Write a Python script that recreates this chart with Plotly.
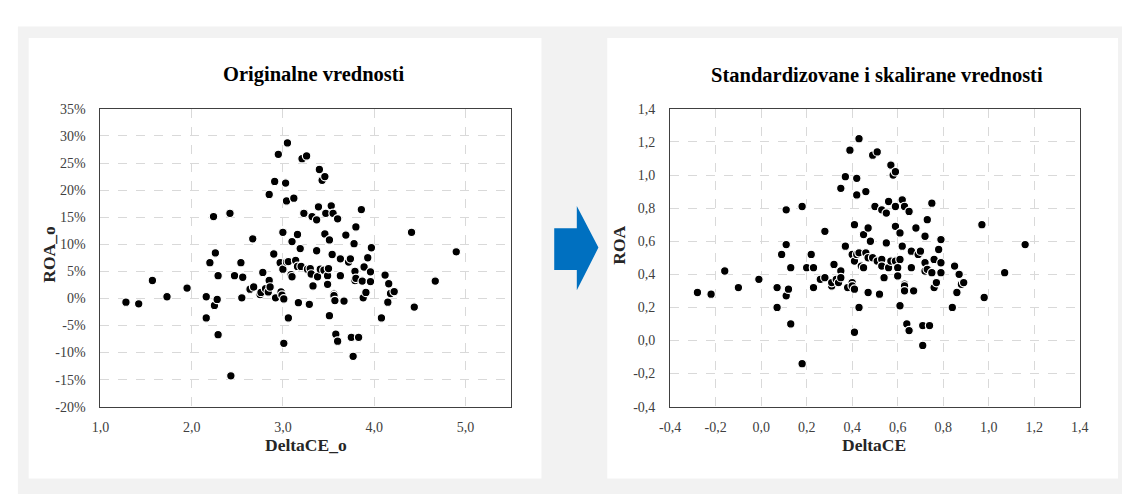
import plotly.graph_objects as go

# ---------------- data ----------------
delta_ce_o = [1.28, 1.42, 1.57, 1.73, 1.95, 2.16, 2.16, 2.20, 2.24, 2.25, 2.26, 2.28, 2.29, 2.29, 2.42,
              2.43, 2.47, 2.54, 2.55, 2.56, 2.64, 2.67, 2.68, 2.75, 2.76, 2.78, 2.81, 2.84, 2.85, 2.86,
              2.85, 2.90, 2.91, 2.92, 2.95, 2.97, 2.98, 2.99, 3.00, 3.00, 3.01, 3.01, 3.03, 3.04, 3.04,
              3.05, 3.06, 3.06, 3.09, 3.10, 3.10, 3.12, 3.14, 3.16, 3.16, 3.17, 3.19, 3.20, 3.21, 3.23,
              3.26, 3.27, 3.29, 3.30, 3.31, 3.32, 3.33, 3.37, 3.37, 3.38, 3.39, 3.40, 3.41, 3.43, 3.45,
              3.46, 3.46, 3.47, 3.49, 3.49, 3.50, 3.51, 3.51, 3.53, 3.54, 3.55, 3.56, 3.56, 3.57, 3.58,
              3.60, 3.60, 3.63, 3.63, 3.67, 3.69, 3.72, 3.74, 3.75, 3.77, 3.78, 3.79, 3.79, 3.80, 3.80,
              3.83, 3.86, 3.87, 3.88, 3.89, 3.91, 3.93, 3.96, 3.96, 3.97, 4.08, 4.12, 4.15, 4.16, 4.18,
              4.22, 4.41, 4.44, 4.67, 4.90]
roa_o_pct = [-0.7, -1.0, 3.3, 0.3, 1.9, 0.3, -3.6, 6.6, 15.1, -1.3, 8.4, -0.2, 4.2, -6.7, 15.7,
             -14.3, 4.2, 6.6, 0.1, 3.9, 1.7, 11.0, 2.1, 0.7, 1.1, 4.8, 1.8, 1.2, 3.3, 2.1,
             19.2, 8.2, 21.6, 0.1, 26.6, 6.6, 1.2, 0.6, 12.2, 5.4, -0.1, -8.3, 21.3, 18.0, 6.7,
             28.7, 6.8, -3.6, 4.4, 4.0, 10.5, 18.5, 7.0, 11.8, 5.9, -0.8, 9.2, 5.9, 25.8, 15.7,
             26.3, 5.4, -1.1, 5.5, 4.5, 15.1, 2.3, 14.5, 8.8, 4.0, 16.9, 23.8, 5.4, 21.8, 5.2,
             22.5, 11.9, 15.7, 4.2, 2.6, 5.5, 10.8, -3.2, 17.1, 8.1, 15.7, 0.8, 0.5, -0.4, -6.6,
             14.7, -7.9, 7.3, 4.2, -0.5, 11.7, 6.7, 7.3, -7.2, -10.7, 10.1, 5.0, 3.3, 3.7, 13.2,
             -7.2, 16.4, 3.2, 0.1, 5.8, 1.1, 7.5, 4.9, 3.1, 9.35, -3.6, 4.3, -0.7, 2.7, 0.9,
             1.25, 12.2, -1.6, 3.2, 8.6]

delta_ce = [-0.28, -0.22, -0.16, -0.10, -0.01, 0.07, 0.07, 0.09, 0.11, 0.11, 0.11, 0.12, 0.13, 0.13, 0.18,
            0.18, 0.20, 0.22, 0.23, 0.23, 0.26, 0.28, 0.28, 0.31, 0.31, 0.32, 0.33, 0.34, 0.35, 0.35,
            0.35, 0.37, 0.37, 0.38, 0.39, 0.40, 0.40, 0.40, 0.41, 0.41, 0.41, 0.41, 0.42, 0.42, 0.42,
            0.43, 0.43, 0.43, 0.44, 0.45, 0.45, 0.46, 0.46, 0.47, 0.47, 0.47, 0.48, 0.49, 0.49, 0.50,
            0.51, 0.51, 0.52, 0.53, 0.53, 0.53, 0.54, 0.55, 0.55, 0.56, 0.56, 0.57, 0.57, 0.58, 0.59,
            0.59, 0.59, 0.59, 0.60, 0.60, 0.61, 0.61, 0.61, 0.62, 0.62, 0.63, 0.63, 0.63, 0.63, 0.64,
            0.65, 0.65, 0.66, 0.66, 0.67, 0.68, 0.69, 0.70, 0.71, 0.71, 0.72, 0.72, 0.72, 0.73, 0.73,
            0.74, 0.75, 0.75, 0.76, 0.76, 0.77, 0.78, 0.79, 0.79, 0.79, 0.84, 0.85, 0.86, 0.87, 0.88,
            0.89, 0.97, 0.98, 1.07, 1.16]
roa = [0.29, 0.28, 0.42, 0.32, 0.37, 0.32, 0.20, 0.52, 0.79, 0.27, 0.58, 0.31, 0.44, 0.10, 0.81,
       -0.14, 0.44, 0.52, 0.32, 0.44, 0.37, 0.66, 0.38, 0.33, 0.35, 0.46, 0.37, 0.35, 0.42, 0.38,
       0.92, 0.57, 0.99, 0.32, 1.15, 0.52, 0.35, 0.33, 0.70, 0.48, 0.31, 0.05, 0.98, 0.88, 0.52,
       1.22, 0.53, 0.20, 0.45, 0.44, 0.64, 0.90, 0.53, 0.68, 0.50, 0.29, 0.60, 0.50, 1.12, 0.81,
       1.14, 0.48, 0.28, 0.49, 0.45, 0.79, 0.38, 0.77, 0.59, 0.44, 0.84, 1.06, 0.48, 1.00, 0.48,
       1.02, 0.69, 0.81, 0.44, 0.39, 0.49, 0.65, 0.21, 0.85, 0.57, 0.81, 0.34, 0.33, 0.30, 0.10,
       0.78, 0.06, 0.54, 0.44, 0.30, 0.68, 0.52, 0.54, 0.09, -0.03, 0.63, 0.47, 0.42, 0.43, 0.73,
       0.09, 0.83, 0.41, 0.32, 0.49, 0.35, 0.55, 0.47, 0.41, 0.61, 0.20, 0.45, 0.29, 0.40, 0.34,
       0.35, 0.70, 0.26, 0.41, 0.58]

left_x_ticks = [1.0, 2.0, 3.0, 4.0, 5.0]
left_x_labels = ["1,0", "2,0", "3,0", "4,0", "5,0"]
left_y_ticks = [-20, -15, -10, -5, 0, 5, 10, 15, 20, 25, 30, 35]
left_y_labels = ["-20%", "-15%", "-10%", "-5%", "0%", "5%", "10%", "15%", "20%", "25%", "30%", "35%"]
right_ticks = [-0.4, -0.2, 0.0, 0.2, 0.4, 0.6, 0.8, 1.0, 1.2, 1.4]
right_labels = ["-0,4", "-0,2", "0,0", "0,2", "0,4", "0,6", "0,8", "1,0", "1,2", "1,4"]

title_left = "Originalne vrednosti"
title_right = "Standardizovane i skalirane vrednosti"

# ---------------- layout helpers ----------------
W, H = 1131, 502


def px(x):
    return x / W


def py(y):
    return 1 - y / H


SERIF = "Liberation Serif, Times New Roman, serif"
marker = dict(color="#000000", size=8.5, line=dict(color="#ffffff", width=1.2))

fig = go.Figure()
fig.add_trace(go.Scatter(x=delta_ce_o, y=roa_o_pct, mode="markers", marker=marker,
                         xaxis="x", yaxis="y", showlegend=False))
fig.add_trace(go.Scatter(x=delta_ce, y=roa, mode="markers", marker=marker,
                         xaxis="x2", yaxis="y2", showlegend=False))

axis_common = dict(showgrid=True, gridcolor="#d9d9d9", griddash="dash", gridwidth=1,
                   zeroline=False, showline=True, mirror=True, linecolor="#404040", linewidth=1,
                   ticks="", tickfont=dict(family=SERIF, size=14, color="#404040"))

plot_top, plot_bot = 105, 412
fig.update_layout(
    width=W, height=H,
    margin=dict(l=0, r=0, t=0, b=0),
    paper_bgcolor="#ffffff",
    plot_bgcolor="#ffffff",
    xaxis=dict(domain=[px(91), px(509)], range=[1.0, 5.5], tickvals=left_x_ticks,
               ticktext=left_x_labels, anchor="y", ticklabelstandoff=8, **axis_common),
    yaxis=dict(domain=[py(plot_bot), py(plot_top)], range=[-20, 35], tickvals=left_y_ticks,
               ticktext=left_y_labels, anchor="x", ticklabelstandoff=11, **axis_common),
    xaxis2=dict(domain=[px(671), px(1088)], range=[-0.4, 1.4], tickvals=right_ticks,
                ticktext=right_labels, anchor="y2", ticklabelstandoff=8, **axis_common),
    yaxis2=dict(domain=[py(plot_bot), py(plot_top)], range=[-0.4, 1.4], tickvals=right_ticks,
                ticktext=right_labels, anchor="x2", ticklabelstandoff=11, **axis_common),
)

shapes = [
    dict(type="rect", xref="paper", yref="paper", x0=px(7), x1=px(1131), y0=py(502), y1=py(20),
         fillcolor="#f2f2f2", line=dict(width=0), layer="below"),
    dict(type="rect", xref="paper", yref="paper", x0=px(18), x1=px(540), y0=py(486), y1=py(32),
         fillcolor="#ffffff", line=dict(width=0), layer="below"),
    dict(type="rect", xref="paper", yref="paper", x0=px(607), x1=px(1127), y0=py(486), y1=py(32),
         fillcolor="#ffffff", line=dict(width=0), layer="below"),
]
arrow_pts = [(553, 228), (576, 228), (576, 205), (598, 248), (576, 292), (576, 271), (553, 271)]
path = "M " + " L ".join(f"{px(a):.5f},{py(b):.5f}" for a, b in arrow_pts) + " Z"
shapes.append(dict(type="path", xref="paper", yref="paper", path=path,
                   fillcolor="#0070c0", line=dict(width=0)))
fig.update_layout(shapes=shapes)

ann_font_title = dict(family=SERIF, size=20.5, color="#000000")
ann_font_axis = dict(family=SERIF, size=17.5, color="#262626")
annotations = [
    dict(text=f"<b>{title_left}</b>", x=px(308), y=py(70), font=ann_font_title),
    dict(text=f"<b>{title_right}</b>", x=px(882), y=py(70), font=ann_font_title),
    dict(text="<b>DeltaCE_o</b>", x=px(300), y=py(452), font=ann_font_axis),
    dict(text="<b>DeltaCE</b>", x=px(879), y=py(452), font=ann_font_axis),
    dict(text="<b>ROA_o</b>", x=px(39), y=py(255), font=ann_font_axis, textangle=-90),
    dict(text="<b>ROA</b>", x=px(619), y=py(246), font=ann_font_axis, textangle=-90),
]
for a in annotations:
    a.update(xref="paper", yref="paper", showarrow=False, xanchor="center", yanchor="middle")
fig.update_layout(annotations=annotations)

fig.write_html("out.html")
